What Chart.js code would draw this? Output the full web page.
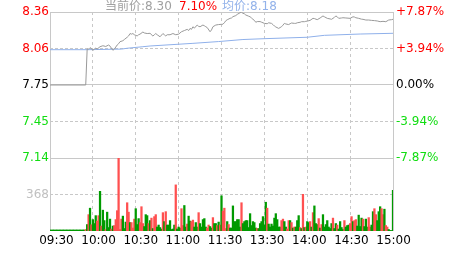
<!DOCTYPE html>
<html>
<head>
<meta charset="utf-8">
<script src="https://cdn.jsdelivr.net/npm/chart.js@4.4.1/dist/chart.umd.min.js"></script>
<style>
  html, body { margin: 0; padding: 0; background: #fff; }
  #wrap { position: relative; width: 463px; height: 255px; overflow: hidden; }
  #wrap canvas { position: absolute; left: 0; top: 0; }
  .hd { position: absolute; top: 0; font: 12px/12px 'DejaVu Sans', 'Noto Sans CJK SC', sans-serif; white-space: nowrap; }
</style>
</head>
<body>
<div id="wrap">
  <canvas id="price" width="463" height="255"></canvas>
  <canvas id="vol" width="463" height="255"></canvas>
  <span class="hd" style="left:105px;color:#a0a0a0">当前价:8.30</span>
  <span class="hd" style="left:179px;color:#ff0000">7.10%</span>
  <span class="hd" style="left:222px;color:#92b2ea">均价:8.18</span>
</div>
<script>
/* ================================================
   Intraday chart: price / average / volume
   ================================================ */

// minute index 0 = 09:30, 120 = 11:30 / 13:00, 240 = 15:00
const timeTicks  = [0, 30, 60, 90, 120, 150, 180, 210, 240];
const timeLabels = ['09:30', '10:00', '10:30', '11:00', '11:30', '13:30', '14:00', '14:30', '15:00'];

const priceTicks  = [8.36, 8.055, 7.75, 7.445, 7.14];
const priceLabels = ['8.36', '8.06', '7.75', '7.45', '7.14'];
const pctLabels   = ['+7.87%', '+3.94%', '0.00%', '-3.94%', '-7.87%'];

const volTicks  = [368];
const volLabels = ['368'];

const priceTimes = [0, 25, 26, 27, 28, 29, 30, 31, 32, 33, 35, 37, 39, 41, 42, 43, 44, 45, 47, 48,
  49, 51, 52, 54, 55, 56, 57, 58, 59, 61, 62, 63, 65, 66, 68, 70, 72, 73, 74, 75,
  77, 79, 80, 81, 82, 84, 86, 88, 90, 92, 94, 96, 97, 98, 99, 100, 101, 103, 104, 105,
  107, 108, 109, 110, 112, 113, 114, 116, 118, 120, 121, 122, 123, 124, 126, 127, 128, 130, 131, 133,
  134, 135, 136, 137, 139, 140, 141, 142, 143, 144, 145, 147, 148, 150, 152, 153, 155, 156, 157, 158,
  160, 161, 162, 163, 164, 165, 167, 168, 169, 171, 172, 173, 175, 176, 178, 179, 180, 182, 184, 185,
  187, 189, 191, 192, 194, 196, 197, 199, 200, 201, 202, 204, 205, 207, 210, 212, 213, 214, 216, 218,
  219, 221, 223, 225, 227, 229, 231, 233, 235, 237, 239, 240];
const prices = [7.75, 7.75, 8.05, 8.05, 8.062, 8.055, 8.04, 8.05, 8.058, 8.05, 8.07, 8.078, 8.072, 8.084, 8.075, 8.057, 8.04, 8.05, 8.084, 8.095,
  8.112, 8.12, 8.13, 8.149, 8.16, 8.18, 8.175, 8.18, 8.17, 8.16, 8.17, 8.175, 8.193, 8.185, 8.18, 8.182, 8.159, 8.17, 8.18, 8.17,
  8.153, 8.18, 8.17, 8.16, 8.17, 8.17, 8.18, 8.17, 8.175, 8.195, 8.205, 8.215, 8.205, 8.223, 8.215, 8.237, 8.225, 8.251, 8.24, 8.237,
  8.251, 8.245, 8.237, 8.23, 8.195, 8.21, 8.237, 8.251, 8.255, 8.257, 8.258, 8.27, 8.287, 8.295, 8.307, 8.31, 8.321, 8.33, 8.34, 8.354,
  8.358, 8.349, 8.345, 8.335, 8.325, 8.32, 8.31, 8.299, 8.29, 8.274, 8.28, 8.28, 8.275, 8.265, 8.262, 8.27, 8.265, 8.255, 8.243, 8.235,
  8.223, 8.23, 8.237, 8.25, 8.265, 8.26, 8.255, 8.262, 8.268, 8.265, 8.265, 8.27, 8.274, 8.279, 8.279, 8.282, 8.284, 8.29, 8.307, 8.305,
  8.296, 8.31, 8.327, 8.32, 8.307, 8.302, 8.299, 8.315, 8.327, 8.32, 8.307, 8.31, 8.312, 8.31, 8.307, 8.32, 8.318, 8.312, 8.307, 8.3,
  8.299, 8.293, 8.293, 8.29, 8.288, 8.285, 8.279, 8.282, 8.279, 8.293, 8.296, 8.299];

const avgTimes  = [0, 26, 50, 54, 65, 70, 100, 118, 135, 150, 180, 192, 217, 240];
const avgPrices = [8.045, 8.045, 8.05, 8.057, 8.07, 8.076, 8.098, 8.113, 8.13, 8.137, 8.149, 8.165, 8.176, 8.182];

const volumes = [
  10, 10, 10, 10, 10, 10, 10, 10, 10, 10,
  10, 10, 10, 10, 10, 10, 10, 10, 10, 10,
  10, 10, 10, 10, 10, 15, 65, 165, 230, 63,
  115, 75, 155, 100, 155, 400, 50, 210, 105, 15,
  190, 35, 120, 20, 50, 55, 115, 205, 736, 15,
  120, 150, 25, 90, 285, 190, 85, 85, 30, 120,
  225, 65, 125, 85, 245, 75, 45, 165, 155, 75,
  105, 130, 25, 145, 165, 40, 60, 35, 20, 185,
  95, 195, 60, 60, 105, 15, 20, 60, 465, 20,
  40, 30, 225, 55, 257, 40, 70, 150, 100, 95,
  110, 40, 85, 40, 185, 75, 40, 115, 125, 40,
  30, 60, 45, 30, 135, 75, 75, 55, 90, 60,
  355, 200, 230, 25, 95, 65, 30, 30, 253, 95,
  95, 115, 115, 40, 285, 75, 95, 105, 105, 35,
  175, 55, 95, 85, 30, 25, 25, 75, 95, 145,
  60, 290, 230, 70, 40, 70, 50, 130, 175, 115,
  40, 40, 105, 120, 95, 40, 20, 105, 105, 85,
  30, 40, 40, 105, 155, 35, 25, 370, 35, 40,
  95, 85, 95, 40, 185, 253, 75, 65, 125, 30,
  65, 165, 40, 65, 105, 40, 25, 75, 130, 25,
  75, 60, 20, 95, 35, 15, 105, 40, 55, 60,
  75, 145, 95, 105, 115, 50, 160, 45, 130, 120,
  45, 120, 40, 135, 40, 60, 195, 225, 165, 105,
  195, 245, 225, 165, 220, 55, 40, 15, 5, 5,
  410];

// r = up minute, g = down minute
const volDirs =
  'gggggggggg' + 'gggggggggg' + 'gggggrgrgr' + 'gggrrgrggr' + 'gggrgrrrrr' +
  'rgggrrgrrr' + 'gggrrrgggr' + 'grgrrggggr' + 'grggggggrg' + 'ggrrggrggr' +
  'rgggrggggg' + 'rrggrggrgr' + 'grrrgrgggg' + 'ggggrggggg' + 'gggggrgggg' +
  'ggrggggggg' + 'ggrrggrrgr' + 'grgggrgrgr' + 'ggrgrgggrg' + 'rgggggggrg' +
  'grggggrggg' + 'rrgrrggggr' + 'gggrrggrrg' + 'ggrrgrrggg' + 'g';

const GRID  = '#c8c8c8';
const UP    = '#ff0000';
const DOWN  = '#11dd11';

Chart.defaults.font.family = "'DejaVu Sans', sans-serif";
Chart.defaults.font.size = 12;

function timeAxis(h) {
  return {
    type: 'linear', min: 0, max: 240, offset: false,
    afterBuildTicks: s => { s.ticks = timeTicks.map(v => ({ value: v })); },
    afterFit: s => { s.height = h; },
    ticks: { display: false },
    grid: { color: GRID, drawTicks: false, offset: false },
    border: { display: false, dash: c => (c.index === 0 || c.index === timeTicks.length - 1) ? [] : [3, 3] },
  };
}

function sideColor(i) {
  if (i < 2) return UP;
  if (i === 2) return '#000';
  return DOWN;
}

new Chart(document.getElementById('price'), {
  type: 'line',
  data: {
    datasets: [
      {
        data: priceTimes.map((t, i) => ({ x: t, y: prices[i] })),
        borderColor: '#999999', borderWidth: 1, pointRadius: 0, tension: 0,
      },
      {
        data: avgTimes.map((t, i) => ({ x: t, y: avgPrices[i] })),
        borderColor: '#8fb0ea', borderWidth: 1, pointRadius: 0, tension: 0,
      },
    ],
  },
  options: {
    responsive: false, animation: false, events: [],
    layout: { padding: { top: 12, left: 0, right: 0, bottom: 0 } },
    plugins: { legend: { display: false }, tooltip: { enabled: false } },
    scales: {
      x: timeAxis(97),
      y: {
        position: 'left', min: 7.14, max: 8.36,
        afterBuildTicks: s => { s.ticks = priceTicks.map(v => ({ value: v })); },
        afterFit: s => { s.width = 50; },
        ticks: { padding: 1, autoSkip: false, color: c => sideColor(c.index), callback: (v, i) => priceLabels[i] },
        grid: { color: GRID, drawTicks: false },
        border: { display: false, dash: c => (c.index === 1 || c.index === 3) ? [3, 2] : [] },
      },
      yPct: {
        position: 'right', min: 7.14, max: 8.36,
        afterBuildTicks: s => { s.ticks = priceTicks.map(v => ({ value: v })); },
        afterFit: s => { s.width = 70; },
        ticks: { padding: 3, autoSkip: false, color: c => sideColor(c.index), callback: (v, i) => pctLabels[i] },
        grid: { display: false, drawTicks: false },
        border: { display: false },
      },
    },
  },
});

new Chart(document.getElementById('vol'), {
  type: 'bar',
  data: {
    datasets: [{
      data: volumes.map((v, i) => ({ x: i, y: v })),
      backgroundColor: volDirs.split('').map(d => d === 'r' ? '#ff5050' : '#009a00'),
      barThickness: 1.6,
    }],
  },
  options: {
    responsive: false, animation: false, events: [],
    layout: { padding: { top: 158, left: 0, right: 70, bottom: 0 } },
    plugins: { legend: { display: false }, tooltip: { enabled: false } },
    scales: {
      x: timeAxis(0),
      xt: {
        type: 'linear', position: 'bottom', min: -4.6, max: 239.6, offset: false,
        afterBuildTicks: s => { s.ticks = timeTicks.map(v => ({ value: v })); },
        afterFit: s => { s.height = 24; },
        ticks: { padding: 3, color: '#000', maxRotation: 0, autoSkip: false, callback: (v, i) => timeLabels[i] },
        grid: { display: false, drawTicks: false },
        border: { display: false },
      },
      y: {
        position: 'left', min: 0, max: 736,
        afterBuildTicks: s => { s.ticks = volTicks.map(v => ({ value: v })); },
        afterFit: s => { s.width = 50; },
        ticks: { padding: 1, color: '#c0c0c0', callback: (v, i) => volLabels[i] },
        grid: { color: GRID, drawTicks: false },
        border: { display: false, dash: [3, 2] },
      },
    },
  },
});
</script>
</body>
</html>
